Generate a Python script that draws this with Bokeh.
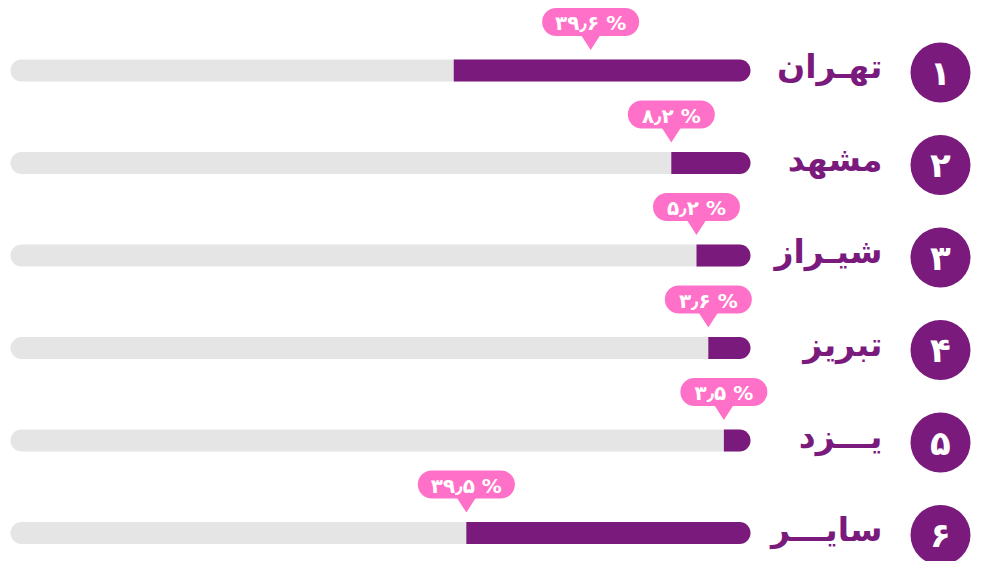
from bokeh.plotting import figure
from bokeh.models import Range1d, ColumnDataSource
from bokeh.core.properties import value
from bokeh.embed import file_html
from bokeh.resources import INLINE

# ---- data ----
cities = ["تهـران", "مشهد", "شیـراز", "تبریز", "یـــزد", "سایـــر"]
ranks = ["۱", "۲", "۳", "۴", "۵", "۶"]
share_labels = ["۳۹٫۶ %", "۸٫۲ %", "۵٫۲ %", "۳٫۶ %", "۳٫۵ %", "۳۹٫۵ %"]
bar_share = [40.1, 10.7, 7.3, 5.7, 3.6, 38.4]   # filled part of each track, % of track

# ---- styling / layout ----
PURPLE = "#7a1a7c"
GREY = "#e5e5e5"
PINK = "#ff70c8"
FONT = value("DejaVu Sans")

W, H = 971, 561
PX_PER_PCT = 7.4      # track length 740 px = 100 %
ZERO_PX = 750         # x of the 0 % end of the track
ROW0_PX = 70.0        # y of first row centre
ROW_PX = 92.5         # row pitch
CIRCLE_PX = 940       # x of the rank circles
NAME_PX = 882         # right edge of the city names


def sx(px):
    """figure x (px) -> data x (percent, reversed)"""
    return (ZERO_PX - px) / PX_PER_PCT


def dy(px):
    return px / ROW_PX


def dx(px):
    return px / PX_PER_PCT


rows = list(range(len(cities)))

p = figure(width=W, height=H,
           x_range=Range1d(sx(0), sx(W)),
           y_range=Range1d((H - ROW0_PX) / ROW_PX, (0 - ROW0_PX) / ROW_PX),
           output_backend="svg", toolbar_location=None,
           x_axis_type=None, y_axis_type=None,
           min_border=0, outline_line_color=None)
p.xgrid.visible = False
p.ygrid.visible = False
p.background_fill_color = "white"

bar_h = dy(22)

# tracks
p.hbar(y=rows, left=[100] * len(rows), right=[0] * len(rows), height=bar_h,
       fill_color=GREY, line_color=None, border_radius=11)
# filled parts
p.hbar(y=rows, left=bar_share, right=[0] * len(rows), height=bar_h,
       fill_color=PURPLE, line_color=None, border_radius=(0, 11, 11, 0))

# callouts
anchors = list(bar_share)
anchors[0] = 21.6   # Tehran's tag sits mid-bar in the reference

lab_y = [r - dy(48.5) for r in rows]
widths = [57 + 10 * sum(ch.isdigit() or ch == "٫" for ch in s) for s in share_labels]
src = ColumnDataSource(dict(
    left=[a + dx(w / 2) for a, w in zip(anchors, widths)],
    right=[a - dx(w / 2) for a, w in zip(anchors, widths)],
    top=[y - dy(14) for y in lab_y],
    bottom=[y + dy(14) for y in lab_y],
))
p.quad(left="left", right="right", top="top", bottom="bottom", source=src,
       fill_color=PINK, line_color=None, border_radius=14)

tri_xs = [[a + dx(10), a - dx(10), a] for a in anchors]
tri_ys = [[r - dy(36), r - dy(36), r - dy(20.5)] for r in rows]
p.patches(xs=tri_xs, ys=tri_ys, fill_color=PINK, line_color=None)

p.text(x=anchors, y=[y + dy(1) for y in lab_y], text=share_labels,
       text_align="center", text_baseline="middle", text_color="white",
       text_font_size="20px", text_font_style="bold", text_font=FONT)

# city names
p.text(x=[sx(NAME_PX)] * len(rows), y=[r - dy(4) for r in rows], text=cities,
       text_align="right", text_baseline="middle", text_color=PURPLE,
       text_font_size="33px", text_font_style="bold", text_font=FONT)

# rank circles
cy = [r + dy(2) for r in rows]
p.scatter(x=[sx(CIRCLE_PX)] * len(rows), y=cy, size=60, marker="circle",
          fill_color=PURPLE, line_color=None)
p.text(x=[sx(CIRCLE_PX)] * len(rows), y=cy, text=ranks,
       text_align="center", text_baseline="middle", text_color="white",
       text_font_size="34px", text_font_style="bold", text_font=FONT)

open("out.html", "w").write(file_html(p, INLINE))
